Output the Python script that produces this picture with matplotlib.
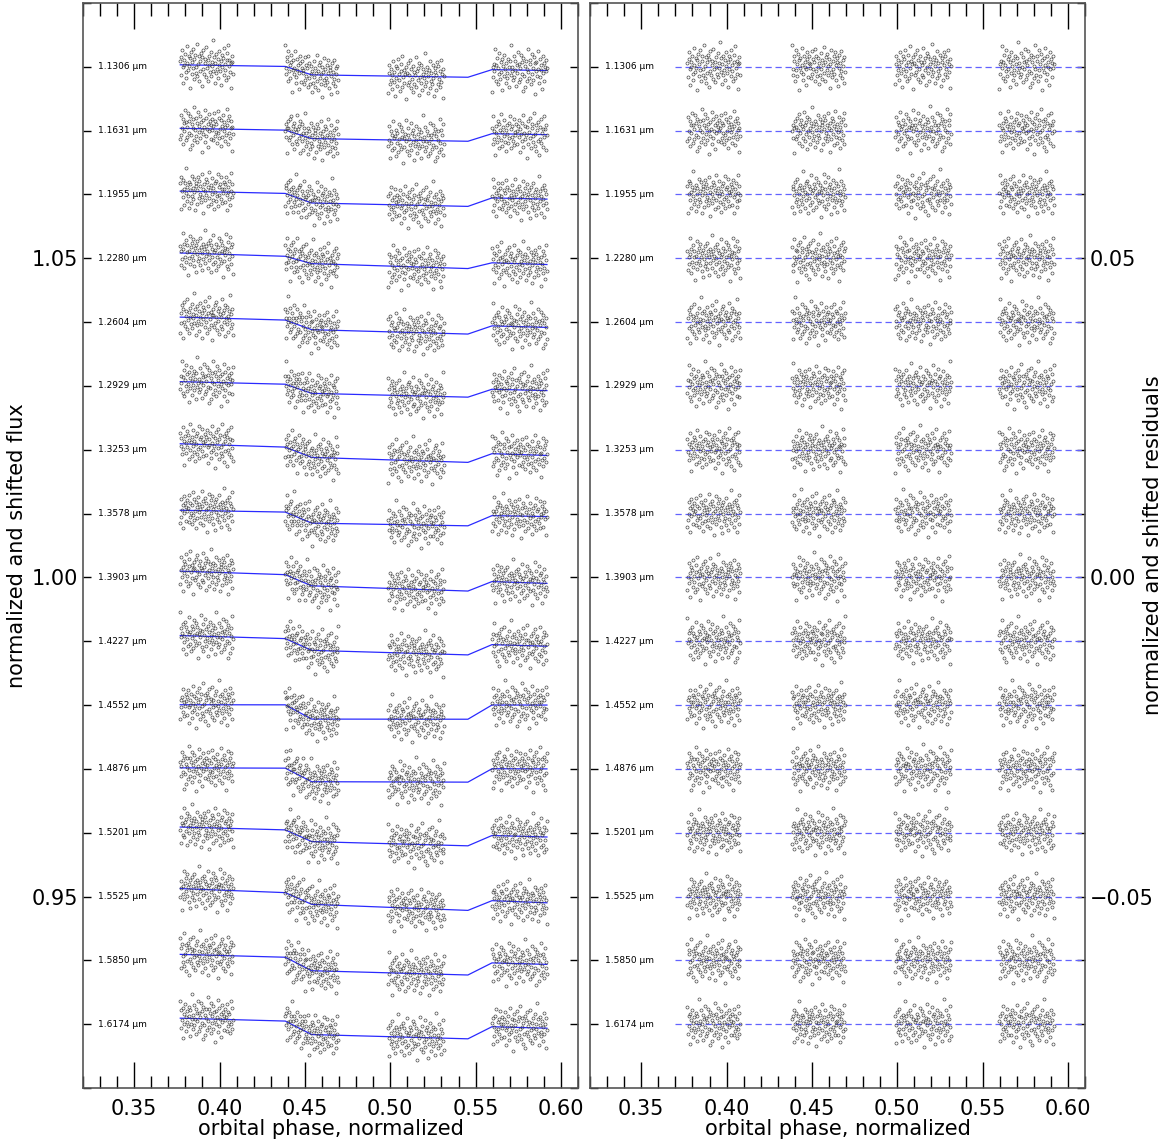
import numpy as np
import matplotlib.pyplot as plt
from matplotlib.ticker import MultipleLocator, FuncFormatter

# spectral channels, top to bottom
wavelengths = ['1.1306', '1.1631', '1.1955', '1.2280', '1.2604', '1.2929', '1.3253', '1.3578',
               '1.3903', '1.4227', '1.4552', '1.4876', '1.5201', '1.5525', '1.5850', '1.6174']
shift_step = 0.01

# the four HST visits (orbital phase)
visit_start = [0.377, 0.4383, 0.4987, 0.5596]
visit_end = [0.4079, 0.4694, 0.5315, 0.5918]
n_exp = 90

# eclipse contact points
contacts = [0.4385, 0.454, 0.5455, 0.5596]

# fitted model per channel (ppm): baseline at first and last exposure, eclipse depth
base_start = [310, 360, 520, 830, 780, 670, 940, 520, 980, 890, 50, 160, 890, 1250, 940, 940]
base_end = [-580, -630, -730, -980, -830, -730, -890, -470, -940, -780, 0, 0, -670, -980, -630, -630]
depth = [1250, 1250, 1410, 1020, 1390, 1330, 1480, 1660, 1610, 1720, 2230, 2110, 1720, 1670, 2000, 2000]

# residual pool, units of 1e-4 in normalized flux
resid_pool = [
    4, -12, 9, 17, -3, -21, 6, 0, 13, -8,
    -15, 22, 2, -6, 10, -1, -27, 8, 15, -11,
    3, -4, 19, -16, 7, 12, -9, -2, 25, -13,
    1, 11, -19, 5, -7, 14, -24, 9, -5, 18,
    -10, 2, 7, -14, 21, -3, 6, -18, 11, 0,
    -8, 16, -12, 4, -1, 29, -6, 10, -20, 3,
    13, -9, -4, 8, -15, 1, 17, -7, 5, -23,
    12, -2, 9, -11, 20, -5, 2, -17, 14, 6,
    -13, 24, -1, 7, -8, 3, -26, 11, 4, -10,
    15, -6, 1, 19, -14, 8, -3, 12, -18, 5,
    -9, 2, 22, -12, 6, -4, 10, -21, 16, 0,
    -7, 13, -16, 3, 9, -2, 27, -11, 5, -6,
    11, -19, 1, 8, -13, 18, -5, 4, -9, 14,
    -1, -22, 10, 6, -15, 2, 17, -8, 12, -3,
    7, -12, 20, -6, 3, -25, 9, 1, -10, 15,
    -4, 11, -17, 5, 23, -7, 2, -14, 8, -2,
    16, -9, 4, -20, 10, 0, -11, 13, -5, 21,
    -16, 6, -3, 9, -8, 18, -13, 3, -1, 12,
]
resid_unit = 1.35e-4

t0, t1 = visit_start[0], visit_end[-1]


def model(phase, i):
    base = base_start[i] + (base_end[i] - base_start[i]) * (phase - t0) / (t1 - t0)
    frac = np.interp(phase, contacts, [0, 1, 1, 0], left=0, right=0)
    return (base - depth[i] * frac) * 1e-6


def residuals(i):
    pool = np.array(resid_pool, dtype=float)
    out = []
    for v in range(4):
        r = np.roll(pool, (37 * i + 61 * v) % len(pool))[:n_exp]
        if (i + v) % 2:
            r = r[::-1]
        out.append(r * resid_unit)
    return np.concatenate(out)


phase = np.concatenate([np.linspace(a, b, n_exp) for a, b in zip(visit_start, visit_end)])
knots = np.sort(np.array([t0] + contacts + [t1]))

fig = plt.figure(figsize=(11.67, 11.43), dpi=100)
ax1 = fig.add_axes([0.0711, 0.0481, 0.4242, 0.9493])
ax2 = fig.add_axes([0.5056, 0.0481, 0.4242, 0.9493])

fmt = FuncFormatter(lambda v, p: ('%.2f' % v).replace('-', '\u2212'))

for i, wl in enumerate(wavelengths):
    lev = 1.08 - shift_step * i
    rlev = 0.08 - shift_step * i
    res = residuals(i)

    ax1.plot(knots, lev + model(knots, i), color='#2a2aff', lw=0.9, zorder=2)
    ax1.plot(phase, lev + model(phase, i) + res, 'o', ms=2.2, mfc='none', mec='#3a3a3a',
             mew=0.45, zorder=3)
    ax1.text(0.3288, lev, wl + ' \u03bcm', fontsize=6.5, va='center', ha='left')

    ax2.plot([0.37, 0.61], [rlev, rlev], color='#6262ff', lw=0.9, dashes=(5, 3), zorder=2)
    ax2.plot(phase, rlev + res, 'o', ms=2.2, mfc='none', mec='#3a3a3a', mew=0.45, zorder=3)
    ax2.text(0.3288, rlev, wl + ' \u03bcm', fontsize=6.5, va='center', ha='left')

ax1.set_ylim(0.92, 1.09)
ax2.set_ylim(-0.08, 0.09)

for ax in (ax1, ax2):
    ax.set_xlim(0.32, 0.61)
    ax.xaxis.set_major_locator(MultipleLocator(0.05))
    ax.xaxis.set_minor_locator(MultipleLocator(0.01))
    ax.yaxis.set_major_locator(MultipleLocator(0.05))
    ax.yaxis.set_minor_locator(MultipleLocator(0.01))
    ax.xaxis.set_major_formatter(fmt)
    ax.yaxis.set_major_formatter(fmt)
    ax.tick_params(axis='x', which='major', direction='in', length=19, width=1,
                   top=True, labelsize=15, pad=8)
    ax.tick_params(axis='x', which='minor', direction='in', length=9, width=1, top=True)
    ax.tick_params(axis='y', which='both', direction='in', length=6, width=1,
                   left=True, right=True, labelsize=15)
    for sp in ax.spines.values():
        sp.set_color('#555555')
        sp.set_linewidth(1.2)
    ax.set_xlabel('orbital phase, normalized', fontsize=15, labelpad=0)

ax1.set_ylabel('normalized and shifted flux', fontsize=15)
ax1.yaxis.set_label_coords(-0.113, 0.5)
ax2.tick_params(axis='y', which='both', labelleft=False, labelright=True)
ax2.yaxis.set_label_position('right')
ax2.set_ylabel('normalized and shifted residuals', fontsize=15)
ax2.yaxis.set_label_coords(1.117, 0.5)

fig.savefig('out.png', dpi=100)
